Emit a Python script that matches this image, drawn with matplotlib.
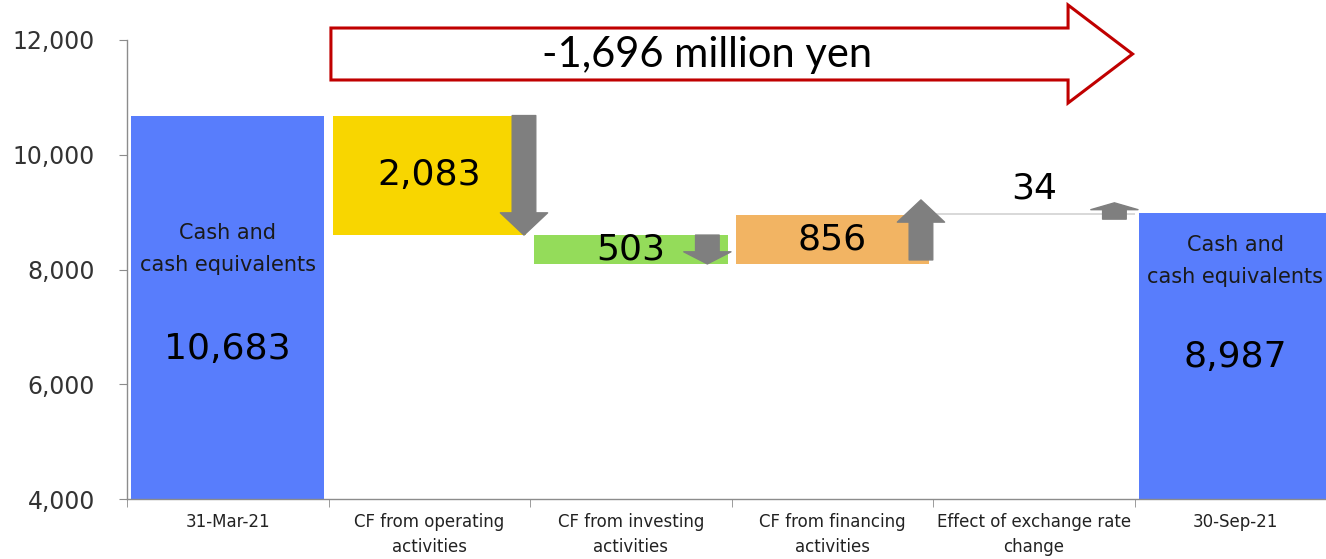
import matplotlib
matplotlib.use("Agg")
import matplotlib.pyplot as plt
from matplotlib.patches import FancyArrowPatch, ArrowStyle, Polygon
from matplotlib.ticker import FixedLocator, FuncFormatter

# data (million yen)
categories = ["31-Mar-21", "CF from operating\nactivities", "CF from investing\nactivities",
              "CF from financing\nactivities", "Effect of exchange rate\nchange", "30-Sep-21"]
opening = 10683
changes = [-2083, -503, 856, 34]
closing = 8987
total_change = -1696
yticks = [4000, 6000, 8000, 10000, 12000]

BLUE = "#587dfc"
step_colors = ["#f8d600", "#94dc5a", "#f2b463", "#d9d9d9"]
ARROW = "#7f7f7f"

fig = plt.figure(figsize=(13.26, 5.59), dpi=100)
ax = fig.add_axes([127 / 1326, 60 / 559, 1 - 127 / 1326, 459 / 559])
ax.set_xlim(-0.5, 5.45)
ax.set_ylim(4000, 12000)

# totals
ax.bar([0, 5], [opening - 4000, closing - 4000], bottom=4000, width=0.96, color=BLUE, zorder=2)

# floating steps
level = opening
for i, (d, c) in enumerate(zip(changes, step_colors)):
    x = i + 1
    lo, hi = min(level, level + d), max(level, level + d)
    w = 1.0 if i == 3 else 0.96
    ax.bar(x, hi - lo, bottom=lo, width=w, color=c, zorder=2)

    # arrow along the right side of the step
    y0, y1 = level, level + d
    if abs(d) < 300:
        y0, y1 = level - 75, level + d + 175
    elif d > 0:
        y0, y1 = level + 70, level + d + 260
    span_pt = abs(y1 - y0) / 8000 * 459 * 0.72
    hl = min(16, 0.42 * span_pt)
    ax_off = [0.47, 0.38, 0.44, 0.40][i]
    style = ArrowStyle.Simple(head_length=hl, head_width=34, tail_width=17)
    ax.add_patch(FancyArrowPatch((x + ax_off, y0), (x + ax_off, y1), arrowstyle=style,
                                 mutation_scale=1, color=ARROW, shrinkA=0, shrinkB=0,
                                 zorder=3, clip_on=False))

    # value label
    ty = (lo + hi) / 2 if i < 3 else hi + 420
    ax.text(x, ty, f"{abs(d):,}", ha="center", va="center", fontsize=26, color="black", zorder=4)
    level += d

# labels inside the total bars
ax.text(0, 8360, "Cash and\ncash equivalents", ha="center", va="center", fontsize=15,
        linespacing=1.75, color="#1a1a1a", zorder=4)
ax.text(0, 6620, f"{opening:,}", ha="center", va="center", fontsize=26, color="black", zorder=4)
ax.text(5, 8150, "Cash and\ncash equivalents", ha="center", va="center", fontsize=15,
        linespacing=1.75, color="#1a1a1a", zorder=4)
ax.text(5, 6480, f"{closing:,}", ha="center", va="center", fontsize=26, color="black", zorder=4)

# big red outlined arrow with total change
body_top, body_bot, head_top, head_bot = 12209, 11303, 12610, 10902
x_left, x_neck, x_tip = 0.512, 4.17, 4.49
pts = [(x_left, body_bot), (x_left, body_top), (x_neck, body_top), (x_neck, head_top),
       (x_tip, (head_top + head_bot) / 2), (x_neck, head_bot), (x_neck, body_bot)]
ax.add_patch(Polygon(pts, closed=True, facecolor="white", edgecolor="#c00000",
                     linewidth=2.2, clip_on=False, zorder=5))
ax.text(2.38, 11745, f"{total_change:,} million yen", ha="center", va="center",
        fontsize=30, family=["Lato", "DejaVu Sans"], color="black", zorder=6)

# axes styling
for s in ["top", "right"]:
    ax.spines[s].set_visible(False)
for s in ["left", "bottom"]:
    ax.spines[s].set_color("#8c8c8c")
    ax.spines[s].set_linewidth(1.0)

ax.yaxis.set_major_locator(FixedLocator(yticks))
ax.yaxis.set_major_formatter(FuncFormatter(lambda v, p: f"{int(v):,}"))
ax.tick_params(axis="y", length=6, color="#8c8c8c", labelsize=17, labelcolor="#333333", pad=17)

ax.set_xticks(range(len(categories)))
ax.set_xticklabels(categories, fontsize=12, color="#222222", linespacing=1.5)
ax.set_xticks([i - 0.5 for i in range(len(categories))], minor=True)
ax.tick_params(axis="x", which="major", length=0, pad=10)
ax.tick_params(axis="x", which="minor", length=6, color="#8c8c8c")

fig.savefig("out.png", dpi=100)
